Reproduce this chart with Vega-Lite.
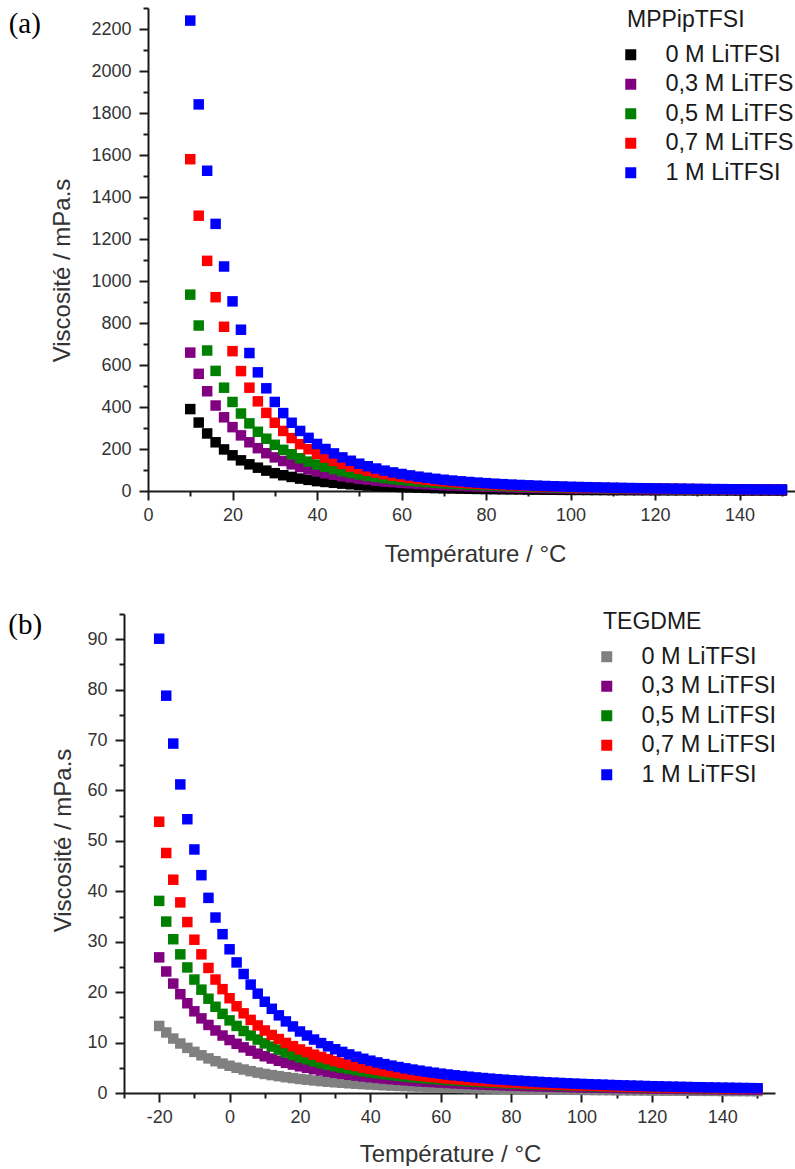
{
"$schema": "https://vega.github.io/schema/vega-lite/v6.json",
"background": "white",
"padding": {"left": 8, "top": 7, "right": 0, "bottom": 0},
"columns": 1,
"align": "none",
"spacing": 45,
"resolve": {"scale": {"color": "independent"}, "legend": {"color": "independent"}},
"config": {
  "view": {"stroke": null},
  "font": "Liberation Sans",
  "axis": {"domainColor": "#1a1a1a", "domainWidth": 2, "tickColor": "#1a1a1a", "tickWidth": 2, "labelFont": "Liberation Sans", "labelFontSize": 18, "labelColor": "#333333", "labelPadding": 8, "titleFont": "Liberation Sans", "titleFontSize": 24, "titleFontWeight": "normal", "titleColor": "#333333", "grid": false, "labelOverlap": false, "labelFlush": false},
  "axisX": {"labelPadding": 6},
  "legend": {"titleFont": "Liberation Sans", "titleFontSize": 23, "titleFontWeight": "normal", "titleColor": "#1a1a1a", "labelFont": "Liberation Sans", "labelFontSize": 23.5, "labelColor": "#1a1a1a", "symbolType": "square", "symbolSize": 121, "symbolStrokeWidth": 0, "symbolOpacity": 1, "symbolOffset": -8, "labelOffset": 23, "rowPadding": 4.5, "titlePadding": 11, "padding": 0, "labelLimit": 300}
},
"datasets": {
"a": [
{"T":10,"v":390,"c":"0 M LiTFSI"},{"T":12,"v":326,"c":"0 M LiTFSI"},{"T":14,"v":274,"c":"0 M LiTFSI"},{"T":16,"v":232,"c":"0 M LiTFSI"},{"T":18,"v":198,"c":"0 M LiTFSI"},{"T":20,"v":170,"c":"0 M LiTFSI"},{"T":22,"v":146,"c":"0 M LiTFSI"},{"T":24,"v":127,"c":"0 M LiTFSI"},{"T":26,"v":111,"c":"0 M LiTFSI"},{"T":28,"v":97,"c":"0 M LiTFSI"},{"T":30,"v":85,"c":"0 M LiTFSI"},{"T":32,"v":75,"c":"0 M LiTFSI"},{"T":34,"v":67,"c":"0 M LiTFSI"},{"T":36,"v":59,"c":"0 M LiTFSI"},{"T":38,"v":53,"c":"0 M LiTFSI"},{"T":40,"v":47,"c":"0 M LiTFSI"},{"T":42,"v":43,"c":"0 M LiTFSI"},{"T":44,"v":39,"c":"0 M LiTFSI"},{"T":46,"v":35,"c":"0 M LiTFSI"},{"T":48,"v":32,"c":"0 M LiTFSI"},{"T":50,"v":29,"c":"0 M LiTFSI"},{"T":52,"v":26,"c":"0 M LiTFSI"},{"T":54,"v":24,"c":"0 M LiTFSI"},{"T":56,"v":22,"c":"0 M LiTFSI"},{"T":58,"v":20.3,"c":"0 M LiTFSI"},{"T":60,"v":18.7,"c":"0 M LiTFSI"},{"T":62,"v":17.3,"c":"0 M LiTFSI"},{"T":64,"v":16.0,"c":"0 M LiTFSI"},{"T":66,"v":14.9,"c":"0 M LiTFSI"},{"T":68,"v":13.8,"c":"0 M LiTFSI"},{"T":70,"v":12.8,"c":"0 M LiTFSI"},{"T":72,"v":12.0,"c":"0 M LiTFSI"},{"T":74,"v":11.2,"c":"0 M LiTFSI"},{"T":76,"v":10.5,"c":"0 M LiTFSI"},{"T":78,"v":9.8,"c":"0 M LiTFSI"},{"T":80,"v":9.2,"c":"0 M LiTFSI"},{"T":82,"v":8.6,"c":"0 M LiTFSI"},{"T":84,"v":8.1,"c":"0 M LiTFSI"},{"T":86,"v":7.7,"c":"0 M LiTFSI"},{"T":88,"v":7.2,"c":"0 M LiTFSI"},{"T":90,"v":6.8,"c":"0 M LiTFSI"},{"T":92,"v":6.5,"c":"0 M LiTFSI"},{"T":94,"v":6.1,"c":"0 M LiTFSI"},{"T":96,"v":5.8,"c":"0 M LiTFSI"},{"T":98,"v":5.5,"c":"0 M LiTFSI"},{"T":100,"v":5.2,"c":"0 M LiTFSI"},{"T":102,"v":5.0,"c":"0 M LiTFSI"},{"T":104,"v":4.8,"c":"0 M LiTFSI"},{"T":106,"v":4.5,"c":"0 M LiTFSI"},{"T":108,"v":4.3,"c":"0 M LiTFSI"},{"T":110,"v":4.1,"c":"0 M LiTFSI"},{"T":112,"v":4.0,"c":"0 M LiTFSI"},{"T":114,"v":3.8,"c":"0 M LiTFSI"},{"T":116,"v":3.6,"c":"0 M LiTFSI"},{"T":118,"v":3.5,"c":"0 M LiTFSI"},{"T":120,"v":3.3,"c":"0 M LiTFSI"},{"T":122,"v":3.2,"c":"0 M LiTFSI"},{"T":124,"v":3.1,"c":"0 M LiTFSI"},{"T":126,"v":3.0,"c":"0 M LiTFSI"},{"T":128,"v":2.9,"c":"0 M LiTFSI"},{"T":130,"v":2.8,"c":"0 M LiTFSI"},{"T":132,"v":2.7,"c":"0 M LiTFSI"},{"T":134,"v":2.6,"c":"0 M LiTFSI"},{"T":136,"v":2.5,"c":"0 M LiTFSI"},{"T":138,"v":2.4,"c":"0 M LiTFSI"},{"T":140,"v":2.3,"c":"0 M LiTFSI"},{"T":142,"v":2.2,"c":"0 M LiTFSI"},{"T":144,"v":2.2,"c":"0 M LiTFSI"},{"T":146,"v":2.1,"c":"0 M LiTFSI"},{"T":148,"v":2.0,"c":"0 M LiTFSI"},{"T":150,"v":2.0,"c":"0 M LiTFSI"},
{"T":10,"v":659,"c":"0,3 M LiTFSI"},{"T":12,"v":558,"c":"0,3 M LiTFSI"},{"T":14,"v":475,"c":"0,3 M LiTFSI"},{"T":16,"v":407,"c":"0,3 M LiTFSI"},{"T":18,"v":351,"c":"0,3 M LiTFSI"},{"T":20,"v":304,"c":"0,3 M LiTFSI"},{"T":22,"v":265,"c":"0,3 M LiTFSI"},{"T":24,"v":232,"c":"0,3 M LiTFSI"},{"T":26,"v":204,"c":"0,3 M LiTFSI"},{"T":28,"v":180,"c":"0,3 M LiTFSI"},{"T":30,"v":160,"c":"0,3 M LiTFSI"},{"T":32,"v":143,"c":"0,3 M LiTFSI"},{"T":34,"v":127,"c":"0,3 M LiTFSI"},{"T":36,"v":114,"c":"0,3 M LiTFSI"},{"T":38,"v":103,"c":"0,3 M LiTFSI"},{"T":40,"v":93,"c":"0,3 M LiTFSI"},{"T":42,"v":84,"c":"0,3 M LiTFSI"},{"T":44,"v":77,"c":"0,3 M LiTFSI"},{"T":46,"v":70,"c":"0,3 M LiTFSI"},{"T":48,"v":64,"c":"0,3 M LiTFSI"},{"T":50,"v":58,"c":"0,3 M LiTFSI"},{"T":52,"v":54,"c":"0,3 M LiTFSI"},{"T":54,"v":49,"c":"0,3 M LiTFSI"},{"T":56,"v":45,"c":"0,3 M LiTFSI"},{"T":58,"v":42.1,"c":"0,3 M LiTFSI"},{"T":60,"v":39.0,"c":"0,3 M LiTFSI"},{"T":62,"v":36.3,"c":"0,3 M LiTFSI"},{"T":64,"v":33.7,"c":"0,3 M LiTFSI"},{"T":66,"v":31.5,"c":"0,3 M LiTFSI"},{"T":68,"v":29.3,"c":"0,3 M LiTFSI"},{"T":70,"v":27.4,"c":"0,3 M LiTFSI"},{"T":72,"v":25.7,"c":"0,3 M LiTFSI"},{"T":74,"v":24.1,"c":"0,3 M LiTFSI"},{"T":76,"v":22.7,"c":"0,3 M LiTFSI"},{"T":78,"v":21.4,"c":"0,3 M LiTFSI"},{"T":80,"v":20.1,"c":"0,3 M LiTFSI"},{"T":82,"v":19.0,"c":"0,3 M LiTFSI"},{"T":84,"v":18.0,"c":"0,3 M LiTFSI"},{"T":86,"v":17.0,"c":"0,3 M LiTFSI"},{"T":88,"v":16.1,"c":"0,3 M LiTFSI"},{"T":90,"v":15.3,"c":"0,3 M LiTFSI"},{"T":92,"v":14.5,"c":"0,3 M LiTFSI"},{"T":94,"v":13.8,"c":"0,3 M LiTFSI"},{"T":96,"v":13.1,"c":"0,3 M LiTFSI"},{"T":98,"v":12.5,"c":"0,3 M LiTFSI"},{"T":100,"v":11.9,"c":"0,3 M LiTFSI"},{"T":102,"v":11.4,"c":"0,3 M LiTFSI"},{"T":104,"v":10.9,"c":"0,3 M LiTFSI"},{"T":106,"v":10.4,"c":"0,3 M LiTFSI"},{"T":108,"v":10.0,"c":"0,3 M LiTFSI"},{"T":110,"v":9.6,"c":"0,3 M LiTFSI"},{"T":112,"v":9.2,"c":"0,3 M LiTFSI"},{"T":114,"v":8.8,"c":"0,3 M LiTFSI"},{"T":116,"v":8.5,"c":"0,3 M LiTFSI"},{"T":118,"v":8.2,"c":"0,3 M LiTFSI"},{"T":120,"v":7.8,"c":"0,3 M LiTFSI"},{"T":122,"v":7.6,"c":"0,3 M LiTFSI"},{"T":124,"v":7.3,"c":"0,3 M LiTFSI"},{"T":126,"v":7.0,"c":"0,3 M LiTFSI"},{"T":128,"v":6.8,"c":"0,3 M LiTFSI"},{"T":130,"v":6.6,"c":"0,3 M LiTFSI"},{"T":132,"v":6.3,"c":"0,3 M LiTFSI"},{"T":134,"v":6.1,"c":"0,3 M LiTFSI"},{"T":136,"v":6.0,"c":"0,3 M LiTFSI"},{"T":138,"v":5.7,"c":"0,3 M LiTFSI"},{"T":140,"v":5.6,"c":"0,3 M LiTFSI"},{"T":142,"v":5.4,"c":"0,3 M LiTFSI"},{"T":144,"v":5.2,"c":"0,3 M LiTFSI"},{"T":146,"v":5.1,"c":"0,3 M LiTFSI"},{"T":148,"v":4.9,"c":"0,3 M LiTFSI"},{"T":150,"v":4.8,"c":"0,3 M LiTFSI"},
{"T":10,"v":935,"c":"0,5 M LiTFSI"},{"T":12,"v":788,"c":"0,5 M LiTFSI"},{"T":14,"v":669,"c":"0,5 M LiTFSI"},{"T":16,"v":572,"c":"0,5 M LiTFSI"},{"T":18,"v":492,"c":"0,5 M LiTFSI"},{"T":20,"v":424,"c":"0,5 M LiTFSI"},{"T":22,"v":369,"c":"0,5 M LiTFSI"},{"T":24,"v":322,"c":"0,5 M LiTFSI"},{"T":26,"v":282,"c":"0,5 M LiTFSI"},{"T":28,"v":249,"c":"0,5 M LiTFSI"},{"T":30,"v":220,"c":"0,5 M LiTFSI"},{"T":32,"v":196,"c":"0,5 M LiTFSI"},{"T":34,"v":175,"c":"0,5 M LiTFSI"},{"T":36,"v":156,"c":"0,5 M LiTFSI"},{"T":38,"v":140,"c":"0,5 M LiTFSI"},{"T":40,"v":126,"c":"0,5 M LiTFSI"},{"T":42,"v":115,"c":"0,5 M LiTFSI"},{"T":44,"v":104,"c":"0,5 M LiTFSI"},{"T":46,"v":94,"c":"0,5 M LiTFSI"},{"T":48,"v":86,"c":"0,5 M LiTFSI"},{"T":50,"v":79,"c":"0,5 M LiTFSI"},{"T":52,"v":72,"c":"0,5 M LiTFSI"},{"T":54,"v":66.5,"c":"0,5 M LiTFSI"},{"T":56,"v":61,"c":"0,5 M LiTFSI"},{"T":58,"v":56.4,"c":"0,5 M LiTFSI"},{"T":60,"v":52.3,"c":"0,5 M LiTFSI"},{"T":62,"v":48.5,"c":"0,5 M LiTFSI"},{"T":64,"v":45.0,"c":"0,5 M LiTFSI"},{"T":66,"v":42.0,"c":"0,5 M LiTFSI"},{"T":68,"v":39.0,"c":"0,5 M LiTFSI"},{"T":70,"v":36.5,"c":"0,5 M LiTFSI"},{"T":72,"v":34.1,"c":"0,5 M LiTFSI"},{"T":74,"v":32.0,"c":"0,5 M LiTFSI"},{"T":76,"v":30.0,"c":"0,5 M LiTFSI"},{"T":78,"v":28.3,"c":"0,5 M LiTFSI"},{"T":80,"v":26.6,"c":"0,5 M LiTFSI"},{"T":82,"v":25.0,"c":"0,5 M LiTFSI"},{"T":84,"v":23.7,"c":"0,5 M LiTFSI"},{"T":86,"v":22.4,"c":"0,5 M LiTFSI"},{"T":88,"v":21.2,"c":"0,5 M LiTFSI"},{"T":90,"v":20.1,"c":"0,5 M LiTFSI"},{"T":92,"v":19.0,"c":"0,5 M LiTFSI"},{"T":94,"v":18.1,"c":"0,5 M LiTFSI"},{"T":96,"v":17.2,"c":"0,5 M LiTFSI"},{"T":98,"v":16.4,"c":"0,5 M LiTFSI"},{"T":100,"v":15.6,"c":"0,5 M LiTFSI"},{"T":102,"v":14.9,"c":"0,5 M LiTFSI"},{"T":104,"v":14.2,"c":"0,5 M LiTFSI"},{"T":106,"v":13.6,"c":"0,5 M LiTFSI"},{"T":108,"v":13.0,"c":"0,5 M LiTFSI"},{"T":110,"v":12.4,"c":"0,5 M LiTFSI"},{"T":112,"v":11.9,"c":"0,5 M LiTFSI"},{"T":114,"v":11.4,"c":"0,5 M LiTFSI"},{"T":116,"v":11.0,"c":"0,5 M LiTFSI"},{"T":118,"v":10.6,"c":"0,5 M LiTFSI"},{"T":120,"v":10.1,"c":"0,5 M LiTFSI"},{"T":122,"v":9.8,"c":"0,5 M LiTFSI"},{"T":124,"v":9.4,"c":"0,5 M LiTFSI"},{"T":126,"v":9.1,"c":"0,5 M LiTFSI"},{"T":128,"v":8.8,"c":"0,5 M LiTFSI"},{"T":130,"v":8.5,"c":"0,5 M LiTFSI"},{"T":132,"v":8.2,"c":"0,5 M LiTFSI"},{"T":134,"v":7.9,"c":"0,5 M LiTFSI"},{"T":136,"v":7.7,"c":"0,5 M LiTFSI"},{"T":138,"v":7.4,"c":"0,5 M LiTFSI"},{"T":140,"v":7.2,"c":"0,5 M LiTFSI"},{"T":142,"v":6.9,"c":"0,5 M LiTFSI"},{"T":144,"v":6.7,"c":"0,5 M LiTFSI"},{"T":146,"v":6.5,"c":"0,5 M LiTFSI"},{"T":148,"v":6.3,"c":"0,5 M LiTFSI"},{"T":150,"v":6.1,"c":"0,5 M LiTFSI"},
{"T":10,"v":1580,"c":"0,7 M LiTFSI"},{"T":12,"v":1311,"c":"0,7 M LiTFSI"},{"T":14,"v":1096,"c":"0,7 M LiTFSI"},{"T":16,"v":923,"c":"0,7 M LiTFSI"},{"T":18,"v":782,"c":"0,7 M LiTFSI"},{"T":20,"v":666,"c":"0,7 M LiTFSI"},{"T":22,"v":571,"c":"0,7 M LiTFSI"},{"T":24,"v":492,"c":"0,7 M LiTFSI"},{"T":26,"v":427,"c":"0,7 M LiTFSI"},{"T":28,"v":372,"c":"0,7 M LiTFSI"},{"T":30,"v":325,"c":"0,7 M LiTFSI"},{"T":32,"v":286,"c":"0,7 M LiTFSI"},{"T":34,"v":252,"c":"0,7 M LiTFSI"},{"T":36,"v":223,"c":"0,7 M LiTFSI"},{"T":38,"v":199,"c":"0,7 M LiTFSI"},{"T":40,"v":177,"c":"0,7 M LiTFSI"},{"T":42,"v":159,"c":"0,7 M LiTFSI"},{"T":44,"v":143,"c":"0,7 M LiTFSI"},{"T":46,"v":129,"c":"0,7 M LiTFSI"},{"T":48,"v":116,"c":"0,7 M LiTFSI"},{"T":50,"v":106,"c":"0,7 M LiTFSI"},{"T":52,"v":96,"c":"0,7 M LiTFSI"},{"T":54,"v":88,"c":"0,7 M LiTFSI"},{"T":56,"v":80,"c":"0,7 M LiTFSI"},{"T":58,"v":73.3,"c":"0,7 M LiTFSI"},{"T":60,"v":67.4,"c":"0,7 M LiTFSI"},{"T":62,"v":62.1,"c":"0,7 M LiTFSI"},{"T":64,"v":57.2,"c":"0,7 M LiTFSI"},{"T":66,"v":53.0,"c":"0,7 M LiTFSI"},{"T":68,"v":49.0,"c":"0,7 M LiTFSI"},{"T":70,"v":45.5,"c":"0,7 M LiTFSI"},{"T":72,"v":42.3,"c":"0,7 M LiTFSI"},{"T":74,"v":39.4,"c":"0,7 M LiTFSI"},{"T":76,"v":36.8,"c":"0,7 M LiTFSI"},{"T":78,"v":34.4,"c":"0,7 M LiTFSI"},{"T":80,"v":32.2,"c":"0,7 M LiTFSI"},{"T":82,"v":30.2,"c":"0,7 M LiTFSI"},{"T":84,"v":28.3,"c":"0,7 M LiTFSI"},{"T":86,"v":26.7,"c":"0,7 M LiTFSI"},{"T":88,"v":25.1,"c":"0,7 M LiTFSI"},{"T":90,"v":23.7,"c":"0,7 M LiTFSI"},{"T":92,"v":22.4,"c":"0,7 M LiTFSI"},{"T":94,"v":21.2,"c":"0,7 M LiTFSI"},{"T":96,"v":20.0,"c":"0,7 M LiTFSI"},{"T":98,"v":19.0,"c":"0,7 M LiTFSI"},{"T":100,"v":18.0,"c":"0,7 M LiTFSI"},{"T":102,"v":17.1,"c":"0,7 M LiTFSI"},{"T":104,"v":16.3,"c":"0,7 M LiTFSI"},{"T":106,"v":15.5,"c":"0,7 M LiTFSI"},{"T":108,"v":14.7,"c":"0,7 M LiTFSI"},{"T":110,"v":14.0,"c":"0,7 M LiTFSI"},{"T":112,"v":13.4,"c":"0,7 M LiTFSI"},{"T":114,"v":12.9,"c":"0,7 M LiTFSI"},{"T":116,"v":12.3,"c":"0,7 M LiTFSI"},{"T":118,"v":11.8,"c":"0,7 M LiTFSI"},{"T":120,"v":11.2,"c":"0,7 M LiTFSI"},{"T":122,"v":10.8,"c":"0,7 M LiTFSI"},{"T":124,"v":10.4,"c":"0,7 M LiTFSI"},{"T":126,"v":9.9,"c":"0,7 M LiTFSI"},{"T":128,"v":9.6,"c":"0,7 M LiTFSI"},{"T":130,"v":9.2,"c":"0,7 M LiTFSI"},{"T":132,"v":8.9,"c":"0,7 M LiTFSI"},{"T":134,"v":8.5,"c":"0,7 M LiTFSI"},{"T":136,"v":8.3,"c":"0,7 M LiTFSI"},{"T":138,"v":7.9,"c":"0,7 M LiTFSI"},{"T":140,"v":7.6,"c":"0,7 M LiTFSI"},{"T":142,"v":7.4,"c":"0,7 M LiTFSI"},{"T":144,"v":7.1,"c":"0,7 M LiTFSI"},{"T":146,"v":6.9,"c":"0,7 M LiTFSI"},{"T":148,"v":6.7,"c":"0,7 M LiTFSI"},{"T":150,"v":6.5,"c":"0,7 M LiTFSI"},
{"T":10,"v":2240,"c":"1 M LiTFSI"},{"T":12,"v":1841,"c":"1 M LiTFSI"},{"T":14,"v":1525,"c":"1 M LiTFSI"},{"T":16,"v":1272,"c":"1 M LiTFSI"},{"T":18,"v":1069,"c":"1 M LiTFSI"},{"T":20,"v":903,"c":"1 M LiTFSI"},{"T":22,"v":768,"c":"1 M LiTFSI"},{"T":24,"v":657,"c":"1 M LiTFSI"},{"T":26,"v":565,"c":"1 M LiTFSI"},{"T":28,"v":489,"c":"1 M LiTFSI"},{"T":30,"v":424,"c":"1 M LiTFSI"},{"T":32,"v":371,"c":"1 M LiTFSI"},{"T":34,"v":325,"c":"1 M LiTFSI"},{"T":36,"v":286,"c":"1 M LiTFSI"},{"T":38,"v":253,"c":"1 M LiTFSI"},{"T":40,"v":224,"c":"1 M LiTFSI"},{"T":42,"v":200,"c":"1 M LiTFSI"},{"T":44,"v":179,"c":"1 M LiTFSI"},{"T":46,"v":160,"c":"1 M LiTFSI"},{"T":48,"v":144,"c":"1 M LiTFSI"},{"T":50,"v":130,"c":"1 M LiTFSI"},{"T":52,"v":118,"c":"1 M LiTFSI"},{"T":54,"v":107,"c":"1 M LiTFSI"},{"T":56,"v":97,"c":"1 M LiTFSI"},{"T":58,"v":88.6,"c":"1 M LiTFSI"},{"T":60,"v":81.1,"c":"1 M LiTFSI"},{"T":62,"v":74.4,"c":"1 M LiTFSI"},{"T":64,"v":68.3,"c":"1 M LiTFSI"},{"T":66,"v":63.0,"c":"1 M LiTFSI"},{"T":68,"v":58.0,"c":"1 M LiTFSI"},{"T":70,"v":53.6,"c":"1 M LiTFSI"},{"T":72,"v":49.7,"c":"1 M LiTFSI"},{"T":74,"v":46.1,"c":"1 M LiTFSI"},{"T":76,"v":42.9,"c":"1 M LiTFSI"},{"T":78,"v":40.0,"c":"1 M LiTFSI"},{"T":80,"v":37.3,"c":"1 M LiTFSI"},{"T":82,"v":34.8,"c":"1 M LiTFSI"},{"T":84,"v":32.6,"c":"1 M LiTFSI"},{"T":86,"v":30.6,"c":"1 M LiTFSI"},{"T":88,"v":28.7,"c":"1 M LiTFSI"},{"T":90,"v":27.0,"c":"1 M LiTFSI"},{"T":92,"v":25.4,"c":"1 M LiTFSI"},{"T":94,"v":24.0,"c":"1 M LiTFSI"},{"T":96,"v":22.6,"c":"1 M LiTFSI"},{"T":98,"v":21.4,"c":"1 M LiTFSI"},{"T":100,"v":20.2,"c":"1 M LiTFSI"},{"T":102,"v":19.2,"c":"1 M LiTFSI"},{"T":104,"v":18.2,"c":"1 M LiTFSI"},{"T":106,"v":17.3,"c":"1 M LiTFSI"},{"T":108,"v":16.4,"c":"1 M LiTFSI"},{"T":110,"v":15.6,"c":"1 M LiTFSI"},{"T":112,"v":14.9,"c":"1 M LiTFSI"},{"T":114,"v":14.2,"c":"1 M LiTFSI"},{"T":116,"v":13.5,"c":"1 M LiTFSI"},{"T":118,"v":12.9,"c":"1 M LiTFSI"},{"T":120,"v":12.3,"c":"1 M LiTFSI"},{"T":122,"v":11.8,"c":"1 M LiTFSI"},{"T":124,"v":11.3,"c":"1 M LiTFSI"},{"T":126,"v":10.8,"c":"1 M LiTFSI"},{"T":128,"v":10.4,"c":"1 M LiTFSI"},{"T":130,"v":10.0,"c":"1 M LiTFSI"},{"T":132,"v":9.6,"c":"1 M LiTFSI"},{"T":134,"v":9.2,"c":"1 M LiTFSI"},{"T":136,"v":8.9,"c":"1 M LiTFSI"},{"T":138,"v":8.5,"c":"1 M LiTFSI"},{"T":140,"v":8.2,"c":"1 M LiTFSI"},{"T":142,"v":7.9,"c":"1 M LiTFSI"},{"T":144,"v":7.6,"c":"1 M LiTFSI"},{"T":146,"v":7.4,"c":"1 M LiTFSI"},{"T":148,"v":7.1,"c":"1 M LiTFSI"},{"T":150,"v":6.9,"c":"1 M LiTFSI"}
],
"b": [
{"T":-20,"v":13.3,"c":"0 M LiTFSI"},{"T":-18,"v":12.0,"c":"0 M LiTFSI"},{"T":-16,"v":10.8,"c":"0 M LiTFSI"},{"T":-14,"v":9.82,"c":"0 M LiTFSI"},{"T":-12,"v":8.95,"c":"0 M LiTFSI"},{"T":-10,"v":8.16,"c":"0 M LiTFSI"},{"T":-8,"v":7.48,"c":"0 M LiTFSI"},{"T":-6,"v":6.86,"c":"0 M LiTFSI"},{"T":-4,"v":6.31,"c":"0 M LiTFSI"},{"T":-2,"v":5.84,"c":"0 M LiTFSI"},{"T":0,"v":5.40,"c":"0 M LiTFSI"},{"T":2,"v":5.01,"c":"0 M LiTFSI"},{"T":4,"v":4.66,"c":"0 M LiTFSI"},{"T":6,"v":4.33,"c":"0 M LiTFSI"},{"T":8,"v":4.04,"c":"0 M LiTFSI"},{"T":10,"v":3.78,"c":"0 M LiTFSI"},{"T":12,"v":3.55,"c":"0 M LiTFSI"},{"T":14,"v":3.34,"c":"0 M LiTFSI"},{"T":16,"v":3.13,"c":"0 M LiTFSI"},{"T":18,"v":2.96,"c":"0 M LiTFSI"},{"T":20,"v":2.78,"c":"0 M LiTFSI"},{"T":22,"v":2.64,"c":"0 M LiTFSI"},{"T":24,"v":2.49,"c":"0 M LiTFSI"},{"T":26,"v":2.36,"c":"0 M LiTFSI"},{"T":28,"v":2.24,"c":"0 M LiTFSI"},{"T":30,"v":2.13,"c":"0 M LiTFSI"},{"T":32,"v":2.03,"c":"0 M LiTFSI"},{"T":34,"v":1.93,"c":"0 M LiTFSI"},{"T":36,"v":1.84,"c":"0 M LiTFSI"},{"T":38,"v":1.76,"c":"0 M LiTFSI"},{"T":40,"v":1.68,"c":"0 M LiTFSI"},{"T":42,"v":1.61,"c":"0 M LiTFSI"},{"T":44,"v":1.54,"c":"0 M LiTFSI"},{"T":46,"v":1.47,"c":"0 M LiTFSI"},{"T":48,"v":1.41,"c":"0 M LiTFSI"},{"T":50,"v":1.36,"c":"0 M LiTFSI"},{"T":52,"v":1.31,"c":"0 M LiTFSI"},{"T":54,"v":1.26,"c":"0 M LiTFSI"},{"T":56,"v":1.21,"c":"0 M LiTFSI"},{"T":58,"v":1.17,"c":"0 M LiTFSI"},{"T":60,"v":1.12,"c":"0 M LiTFSI"},{"T":62,"v":1.08,"c":"0 M LiTFSI"},{"T":64,"v":1.05,"c":"0 M LiTFSI"},{"T":66,"v":1.01,"c":"0 M LiTFSI"},{"T":68,"v":0.98,"c":"0 M LiTFSI"},{"T":70,"v":0.95,"c":"0 M LiTFSI"},{"T":72,"v":0.92,"c":"0 M LiTFSI"},{"T":74,"v":0.89,"c":"0 M LiTFSI"},{"T":76,"v":0.86,"c":"0 M LiTFSI"},{"T":78,"v":0.84,"c":"0 M LiTFSI"},{"T":80,"v":0.81,"c":"0 M LiTFSI"},{"T":82,"v":0.79,"c":"0 M LiTFSI"},{"T":84,"v":0.77,"c":"0 M LiTFSI"},{"T":86,"v":0.75,"c":"0 M LiTFSI"},{"T":88,"v":0.73,"c":"0 M LiTFSI"},{"T":90,"v":0.71,"c":"0 M LiTFSI"},{"T":92,"v":0.69,"c":"0 M LiTFSI"},{"T":94,"v":0.67,"c":"0 M LiTFSI"},{"T":96,"v":0.65,"c":"0 M LiTFSI"},{"T":98,"v":0.64,"c":"0 M LiTFSI"},{"T":100,"v":0.62,"c":"0 M LiTFSI"},{"T":102,"v":0.61,"c":"0 M LiTFSI"},{"T":104,"v":0.59,"c":"0 M LiTFSI"},{"T":106,"v":0.58,"c":"0 M LiTFSI"},{"T":108,"v":0.57,"c":"0 M LiTFSI"},{"T":110,"v":0.55,"c":"0 M LiTFSI"},{"T":112,"v":0.54,"c":"0 M LiTFSI"},{"T":114,"v":0.53,"c":"0 M LiTFSI"},{"T":116,"v":0.52,"c":"0 M LiTFSI"},{"T":118,"v":0.51,"c":"0 M LiTFSI"},{"T":120,"v":0.50,"c":"0 M LiTFSI"},{"T":122,"v":0.49,"c":"0 M LiTFSI"},{"T":124,"v":0.47,"c":"0 M LiTFSI"},{"T":126,"v":0.47,"c":"0 M LiTFSI"},{"T":128,"v":0.46,"c":"0 M LiTFSI"},{"T":130,"v":0.45,"c":"0 M LiTFSI"},{"T":132,"v":0.44,"c":"0 M LiTFSI"},{"T":134,"v":0.43,"c":"0 M LiTFSI"},{"T":136,"v":0.43,"c":"0 M LiTFSI"},{"T":138,"v":0.42,"c":"0 M LiTFSI"},{"T":140,"v":0.41,"c":"0 M LiTFSI"},{"T":142,"v":0.40,"c":"0 M LiTFSI"},{"T":144,"v":0.39,"c":"0 M LiTFSI"},{"T":146,"v":0.39,"c":"0 M LiTFSI"},{"T":148,"v":0.38,"c":"0 M LiTFSI"},{"T":150,"v":0.38,"c":"0 M LiTFSI"},
{"T":-20,"v":26.9,"c":"0,3 M LiTFSI"},{"T":-18,"v":24.1,"c":"0,3 M LiTFSI"},{"T":-16,"v":21.7,"c":"0,3 M LiTFSI"},{"T":-14,"v":19.6,"c":"0,3 M LiTFSI"},{"T":-12,"v":17.8,"c":"0,3 M LiTFSI"},{"T":-10,"v":16.2,"c":"0,3 M LiTFSI"},{"T":-8,"v":14.8,"c":"0,3 M LiTFSI"},{"T":-6,"v":13.5,"c":"0,3 M LiTFSI"},{"T":-4,"v":12.4,"c":"0,3 M LiTFSI"},{"T":-2,"v":11.4,"c":"0,3 M LiTFSI"},{"T":0,"v":10.5,"c":"0,3 M LiTFSI"},{"T":2,"v":9.76,"c":"0,3 M LiTFSI"},{"T":4,"v":9.05,"c":"0,3 M LiTFSI"},{"T":6,"v":8.39,"c":"0,3 M LiTFSI"},{"T":8,"v":7.81,"c":"0,3 M LiTFSI"},{"T":10,"v":7.29,"c":"0,3 M LiTFSI"},{"T":12,"v":6.83,"c":"0,3 M LiTFSI"},{"T":14,"v":6.40,"c":"0,3 M LiTFSI"},{"T":16,"v":5.98,"c":"0,3 M LiTFSI"},{"T":18,"v":5.64,"c":"0,3 M LiTFSI"},{"T":20,"v":5.29,"c":"0,3 M LiTFSI"},{"T":22,"v":5.01,"c":"0,3 M LiTFSI"},{"T":24,"v":4.72,"c":"0,3 M LiTFSI"},{"T":26,"v":4.46,"c":"0,3 M LiTFSI"},{"T":28,"v":4.23,"c":"0,3 M LiTFSI"},{"T":30,"v":4.01,"c":"0,3 M LiTFSI"},{"T":32,"v":3.81,"c":"0,3 M LiTFSI"},{"T":34,"v":3.62,"c":"0,3 M LiTFSI"},{"T":36,"v":3.45,"c":"0,3 M LiTFSI"},{"T":38,"v":3.29,"c":"0,3 M LiTFSI"},{"T":40,"v":3.14,"c":"0,3 M LiTFSI"},{"T":42,"v":3.00,"c":"0,3 M LiTFSI"},{"T":44,"v":2.86,"c":"0,3 M LiTFSI"},{"T":46,"v":2.74,"c":"0,3 M LiTFSI"},{"T":48,"v":2.62,"c":"0,3 M LiTFSI"},{"T":50,"v":2.52,"c":"0,3 M LiTFSI"},{"T":52,"v":2.41,"c":"0,3 M LiTFSI"},{"T":54,"v":2.32,"c":"0,3 M LiTFSI"},{"T":56,"v":2.23,"c":"0,3 M LiTFSI"},{"T":58,"v":2.15,"c":"0,3 M LiTFSI"},{"T":60,"v":2.07,"c":"0,3 M LiTFSI"},{"T":62,"v":1.99,"c":"0,3 M LiTFSI"},{"T":64,"v":1.92,"c":"0,3 M LiTFSI"},{"T":66,"v":1.86,"c":"0,3 M LiTFSI"},{"T":68,"v":1.80,"c":"0,3 M LiTFSI"},{"T":70,"v":1.73,"c":"0,3 M LiTFSI"},{"T":72,"v":1.68,"c":"0,3 M LiTFSI"},{"T":74,"v":1.62,"c":"0,3 M LiTFSI"},{"T":76,"v":1.57,"c":"0,3 M LiTFSI"},{"T":78,"v":1.52,"c":"0,3 M LiTFSI"},{"T":80,"v":1.48,"c":"0,3 M LiTFSI"},{"T":82,"v":1.43,"c":"0,3 M LiTFSI"},{"T":84,"v":1.39,"c":"0,3 M LiTFSI"},{"T":86,"v":1.35,"c":"0,3 M LiTFSI"},{"T":88,"v":1.31,"c":"0,3 M LiTFSI"},{"T":90,"v":1.27,"c":"0,3 M LiTFSI"},{"T":92,"v":1.24,"c":"0,3 M LiTFSI"},{"T":94,"v":1.21,"c":"0,3 M LiTFSI"},{"T":96,"v":1.18,"c":"0,3 M LiTFSI"},{"T":98,"v":1.15,"c":"0,3 M LiTFSI"},{"T":100,"v":1.12,"c":"0,3 M LiTFSI"},{"T":102,"v":1.09,"c":"0,3 M LiTFSI"},{"T":104,"v":1.07,"c":"0,3 M LiTFSI"},{"T":106,"v":1.04,"c":"0,3 M LiTFSI"},{"T":108,"v":1.01,"c":"0,3 M LiTFSI"},{"T":110,"v":0.99,"c":"0,3 M LiTFSI"},{"T":112,"v":0.97,"c":"0,3 M LiTFSI"},{"T":114,"v":0.95,"c":"0,3 M LiTFSI"},{"T":116,"v":0.93,"c":"0,3 M LiTFSI"},{"T":118,"v":0.90,"c":"0,3 M LiTFSI"},{"T":120,"v":0.88,"c":"0,3 M LiTFSI"},{"T":122,"v":0.87,"c":"0,3 M LiTFSI"},{"T":124,"v":0.84,"c":"0,3 M LiTFSI"},{"T":126,"v":0.83,"c":"0,3 M LiTFSI"},{"T":128,"v":0.81,"c":"0,3 M LiTFSI"},{"T":130,"v":0.80,"c":"0,3 M LiTFSI"},{"T":132,"v":0.78,"c":"0,3 M LiTFSI"},{"T":134,"v":0.77,"c":"0,3 M LiTFSI"},{"T":136,"v":0.75,"c":"0,3 M LiTFSI"},{"T":138,"v":0.74,"c":"0,3 M LiTFSI"},{"T":140,"v":0.73,"c":"0,3 M LiTFSI"},{"T":142,"v":0.71,"c":"0,3 M LiTFSI"},{"T":144,"v":0.70,"c":"0,3 M LiTFSI"},{"T":146,"v":0.69,"c":"0,3 M LiTFSI"},{"T":148,"v":0.67,"c":"0,3 M LiTFSI"},{"T":150,"v":0.66,"c":"0,3 M LiTFSI"},
{"T":-20,"v":38.1,"c":"0,5 M LiTFSI"},{"T":-18,"v":34.0,"c":"0,5 M LiTFSI"},{"T":-16,"v":30.5,"c":"0,5 M LiTFSI"},{"T":-14,"v":27.5,"c":"0,5 M LiTFSI"},{"T":-12,"v":24.9,"c":"0,5 M LiTFSI"},{"T":-10,"v":22.5,"c":"0,5 M LiTFSI"},{"T":-8,"v":20.5,"c":"0,5 M LiTFSI"},{"T":-6,"v":18.7,"c":"0,5 M LiTFSI"},{"T":-4,"v":17.1,"c":"0,5 M LiTFSI"},{"T":-2,"v":15.7,"c":"0,5 M LiTFSI"},{"T":0,"v":14.4,"c":"0,5 M LiTFSI"},{"T":2,"v":13.3,"c":"0,5 M LiTFSI"},{"T":4,"v":12.3,"c":"0,5 M LiTFSI"},{"T":6,"v":11.4,"c":"0,5 M LiTFSI"},{"T":8,"v":10.6,"c":"0,5 M LiTFSI"},{"T":10,"v":9.84,"c":"0,5 M LiTFSI"},{"T":12,"v":9.20,"c":"0,5 M LiTFSI"},{"T":14,"v":8.59,"c":"0,5 M LiTFSI"},{"T":16,"v":8.02,"c":"0,5 M LiTFSI"},{"T":18,"v":7.54,"c":"0,5 M LiTFSI"},{"T":20,"v":7.05,"c":"0,5 M LiTFSI"},{"T":22,"v":6.67,"c":"0,5 M LiTFSI"},{"T":24,"v":6.27,"c":"0,5 M LiTFSI"},{"T":26,"v":5.92,"c":"0,5 M LiTFSI"},{"T":28,"v":5.59,"c":"0,5 M LiTFSI"},{"T":30,"v":5.30,"c":"0,5 M LiTFSI"},{"T":32,"v":5.02,"c":"0,5 M LiTFSI"},{"T":34,"v":4.76,"c":"0,5 M LiTFSI"},{"T":36,"v":4.52,"c":"0,5 M LiTFSI"},{"T":38,"v":4.30,"c":"0,5 M LiTFSI"},{"T":40,"v":4.10,"c":"0,5 M LiTFSI"},{"T":42,"v":3.91,"c":"0,5 M LiTFSI"},{"T":44,"v":3.73,"c":"0,5 M LiTFSI"},{"T":46,"v":3.56,"c":"0,5 M LiTFSI"},{"T":48,"v":3.41,"c":"0,5 M LiTFSI"},{"T":50,"v":3.26,"c":"0,5 M LiTFSI"},{"T":52,"v":3.13,"c":"0,5 M LiTFSI"},{"T":54,"v":3.00,"c":"0,5 M LiTFSI"},{"T":56,"v":2.88,"c":"0,5 M LiTFSI"},{"T":58,"v":2.77,"c":"0,5 M LiTFSI"},{"T":60,"v":2.66,"c":"0,5 M LiTFSI"},{"T":62,"v":2.56,"c":"0,5 M LiTFSI"},{"T":64,"v":2.47,"c":"0,5 M LiTFSI"},{"T":66,"v":2.38,"c":"0,5 M LiTFSI"},{"T":68,"v":2.30,"c":"0,5 M LiTFSI"},{"T":70,"v":2.22,"c":"0,5 M LiTFSI"},{"T":72,"v":2.14,"c":"0,5 M LiTFSI"},{"T":74,"v":2.07,"c":"0,5 M LiTFSI"},{"T":76,"v":2.00,"c":"0,5 M LiTFSI"},{"T":78,"v":1.94,"c":"0,5 M LiTFSI"},{"T":80,"v":1.88,"c":"0,5 M LiTFSI"},{"T":82,"v":1.82,"c":"0,5 M LiTFSI"},{"T":84,"v":1.77,"c":"0,5 M LiTFSI"},{"T":86,"v":1.71,"c":"0,5 M LiTFSI"},{"T":88,"v":1.66,"c":"0,5 M LiTFSI"},{"T":90,"v":1.61,"c":"0,5 M LiTFSI"},{"T":92,"v":1.57,"c":"0,5 M LiTFSI"},{"T":94,"v":1.53,"c":"0,5 M LiTFSI"},{"T":96,"v":1.48,"c":"0,5 M LiTFSI"},{"T":98,"v":1.44,"c":"0,5 M LiTFSI"},{"T":100,"v":1.40,"c":"0,5 M LiTFSI"},{"T":102,"v":1.37,"c":"0,5 M LiTFSI"},{"T":104,"v":1.34,"c":"0,5 M LiTFSI"},{"T":106,"v":1.31,"c":"0,5 M LiTFSI"},{"T":108,"v":1.27,"c":"0,5 M LiTFSI"},{"T":110,"v":1.24,"c":"0,5 M LiTFSI"},{"T":112,"v":1.21,"c":"0,5 M LiTFSI"},{"T":114,"v":1.18,"c":"0,5 M LiTFSI"},{"T":116,"v":1.16,"c":"0,5 M LiTFSI"},{"T":118,"v":1.13,"c":"0,5 M LiTFSI"},{"T":120,"v":1.10,"c":"0,5 M LiTFSI"},{"T":122,"v":1.08,"c":"0,5 M LiTFSI"},{"T":124,"v":1.05,"c":"0,5 M LiTFSI"},{"T":126,"v":1.03,"c":"0,5 M LiTFSI"},{"T":128,"v":1.01,"c":"0,5 M LiTFSI"},{"T":130,"v":0.99,"c":"0,5 M LiTFSI"},{"T":132,"v":0.97,"c":"0,5 M LiTFSI"},{"T":134,"v":0.96,"c":"0,5 M LiTFSI"},{"T":136,"v":0.93,"c":"0,5 M LiTFSI"},{"T":138,"v":0.91,"c":"0,5 M LiTFSI"},{"T":140,"v":0.90,"c":"0,5 M LiTFSI"},{"T":142,"v":0.89,"c":"0,5 M LiTFSI"},{"T":144,"v":0.86,"c":"0,5 M LiTFSI"},{"T":146,"v":0.85,"c":"0,5 M LiTFSI"},{"T":148,"v":0.83,"c":"0,5 M LiTFSI"},{"T":150,"v":0.82,"c":"0,5 M LiTFSI"},
{"T":-20,"v":53.8,"c":"0,7 M LiTFSI"},{"T":-18,"v":47.6,"c":"0,7 M LiTFSI"},{"T":-16,"v":42.3,"c":"0,7 M LiTFSI"},{"T":-14,"v":37.8,"c":"0,7 M LiTFSI"},{"T":-12,"v":33.9,"c":"0,7 M LiTFSI"},{"T":-10,"v":30.4,"c":"0,7 M LiTFSI"},{"T":-8,"v":27.5,"c":"0,7 M LiTFSI"},{"T":-6,"v":24.8,"c":"0,7 M LiTFSI"},{"T":-4,"v":22.5,"c":"0,7 M LiTFSI"},{"T":-2,"v":20.6,"c":"0,7 M LiTFSI"},{"T":0,"v":18.8,"c":"0,7 M LiTFSI"},{"T":2,"v":17.2,"c":"0,7 M LiTFSI"},{"T":4,"v":15.8,"c":"0,7 M LiTFSI"},{"T":6,"v":14.5,"c":"0,7 M LiTFSI"},{"T":8,"v":13.4,"c":"0,7 M LiTFSI"},{"T":10,"v":12.4,"c":"0,7 M LiTFSI"},{"T":12,"v":11.5,"c":"0,7 M LiTFSI"},{"T":14,"v":10.7,"c":"0,7 M LiTFSI"},{"T":16,"v":9.93,"c":"0,7 M LiTFSI"},{"T":18,"v":9.29,"c":"0,7 M LiTFSI"},{"T":20,"v":8.64,"c":"0,7 M LiTFSI"},{"T":22,"v":8.12,"c":"0,7 M LiTFSI"},{"T":24,"v":7.60,"c":"0,7 M LiTFSI"},{"T":26,"v":7.14,"c":"0,7 M LiTFSI"},{"T":28,"v":6.72,"c":"0,7 M LiTFSI"},{"T":30,"v":6.33,"c":"0,7 M LiTFSI"},{"T":32,"v":5.98,"c":"0,7 M LiTFSI"},{"T":34,"v":5.64,"c":"0,7 M LiTFSI"},{"T":36,"v":5.34,"c":"0,7 M LiTFSI"},{"T":38,"v":5.06,"c":"0,7 M LiTFSI"},{"T":40,"v":4.80,"c":"0,7 M LiTFSI"},{"T":42,"v":4.56,"c":"0,7 M LiTFSI"},{"T":44,"v":4.33,"c":"0,7 M LiTFSI"},{"T":46,"v":4.12,"c":"0,7 M LiTFSI"},{"T":48,"v":3.93,"c":"0,7 M LiTFSI"},{"T":50,"v":3.75,"c":"0,7 M LiTFSI"},{"T":52,"v":3.58,"c":"0,7 M LiTFSI"},{"T":54,"v":3.42,"c":"0,7 M LiTFSI"},{"T":56,"v":3.27,"c":"0,7 M LiTFSI"},{"T":58,"v":3.14,"c":"0,7 M LiTFSI"},{"T":60,"v":3.00,"c":"0,7 M LiTFSI"},{"T":62,"v":2.88,"c":"0,7 M LiTFSI"},{"T":64,"v":2.77,"c":"0,7 M LiTFSI"},{"T":66,"v":2.67,"c":"0,7 M LiTFSI"},{"T":68,"v":2.56,"c":"0,7 M LiTFSI"},{"T":70,"v":2.46,"c":"0,7 M LiTFSI"},{"T":72,"v":2.37,"c":"0,7 M LiTFSI"},{"T":74,"v":2.29,"c":"0,7 M LiTFSI"},{"T":76,"v":2.21,"c":"0,7 M LiTFSI"},{"T":78,"v":2.13,"c":"0,7 M LiTFSI"},{"T":80,"v":2.06,"c":"0,7 M LiTFSI"},{"T":82,"v":1.99,"c":"0,7 M LiTFSI"},{"T":84,"v":1.92,"c":"0,7 M LiTFSI"},{"T":86,"v":1.86,"c":"0,7 M LiTFSI"},{"T":88,"v":1.80,"c":"0,7 M LiTFSI"},{"T":90,"v":1.74,"c":"0,7 M LiTFSI"},{"T":92,"v":1.69,"c":"0,7 M LiTFSI"},{"T":94,"v":1.65,"c":"0,7 M LiTFSI"},{"T":96,"v":1.59,"c":"0,7 M LiTFSI"},{"T":98,"v":1.55,"c":"0,7 M LiTFSI"},{"T":100,"v":1.50,"c":"0,7 M LiTFSI"},{"T":102,"v":1.46,"c":"0,7 M LiTFSI"},{"T":104,"v":1.43,"c":"0,7 M LiTFSI"},{"T":106,"v":1.39,"c":"0,7 M LiTFSI"},{"T":108,"v":1.35,"c":"0,7 M LiTFSI"},{"T":110,"v":1.31,"c":"0,7 M LiTFSI"},{"T":112,"v":1.28,"c":"0,7 M LiTFSI"},{"T":114,"v":1.25,"c":"0,7 M LiTFSI"},{"T":116,"v":1.22,"c":"0,7 M LiTFSI"},{"T":118,"v":1.19,"c":"0,7 M LiTFSI"},{"T":120,"v":1.15,"c":"0,7 M LiTFSI"},{"T":122,"v":1.13,"c":"0,7 M LiTFSI"},{"T":124,"v":1.10,"c":"0,7 M LiTFSI"},{"T":126,"v":1.08,"c":"0,7 M LiTFSI"},{"T":128,"v":1.05,"c":"0,7 M LiTFSI"},{"T":130,"v":1.03,"c":"0,7 M LiTFSI"},{"T":132,"v":1.00,"c":"0,7 M LiTFSI"},{"T":134,"v":0.99,"c":"0,7 M LiTFSI"},{"T":136,"v":0.97,"c":"0,7 M LiTFSI"},{"T":138,"v":0.94,"c":"0,7 M LiTFSI"},{"T":140,"v":0.93,"c":"0,7 M LiTFSI"},{"T":142,"v":0.91,"c":"0,7 M LiTFSI"},{"T":144,"v":0.89,"c":"0,7 M LiTFSI"},{"T":146,"v":0.87,"c":"0,7 M LiTFSI"},{"T":148,"v":0.85,"c":"0,7 M LiTFSI"},{"T":150,"v":0.84,"c":"0,7 M LiTFSI"},
{"T":-20,"v":90.1,"c":"1 M LiTFSI"},{"T":-18,"v":78.8,"c":"1 M LiTFSI"},{"T":-16,"v":69.3,"c":"1 M LiTFSI"},{"T":-14,"v":61.2,"c":"1 M LiTFSI"},{"T":-12,"v":54.3,"c":"1 M LiTFSI"},{"T":-10,"v":48.3,"c":"1 M LiTFSI"},{"T":-8,"v":43.2,"c":"1 M LiTFSI"},{"T":-6,"v":38.7,"c":"1 M LiTFSI"},{"T":-4,"v":34.8,"c":"1 M LiTFSI"},{"T":-2,"v":31.5,"c":"1 M LiTFSI"},{"T":0,"v":28.5,"c":"1 M LiTFSI"},{"T":2,"v":25.9,"c":"1 M LiTFSI"},{"T":4,"v":23.6,"c":"1 M LiTFSI"},{"T":6,"v":21.5,"c":"1 M LiTFSI"},{"T":8,"v":19.7,"c":"1 M LiTFSI"},{"T":10,"v":18.1,"c":"1 M LiTFSI"},{"T":12,"v":16.7,"c":"1 M LiTFSI"},{"T":14,"v":15.4,"c":"1 M LiTFSI"},{"T":16,"v":14.2,"c":"1 M LiTFSI"},{"T":18,"v":13.2,"c":"1 M LiTFSI"},{"T":20,"v":12.2,"c":"1 M LiTFSI"},{"T":22,"v":11.4,"c":"1 M LiTFSI"},{"T":24,"v":10.6,"c":"1 M LiTFSI"},{"T":26,"v":9.9,"c":"1 M LiTFSI"},{"T":28,"v":9.26,"c":"1 M LiTFSI"},{"T":30,"v":8.68,"c":"1 M LiTFSI"},{"T":32,"v":8.15,"c":"1 M LiTFSI"},{"T":34,"v":7.65,"c":"1 M LiTFSI"},{"T":36,"v":7.20,"c":"1 M LiTFSI"},{"T":38,"v":6.79,"c":"1 M LiTFSI"},{"T":40,"v":6.41,"c":"1 M LiTFSI"},{"T":42,"v":6.06,"c":"1 M LiTFSI"},{"T":44,"v":5.73,"c":"1 M LiTFSI"},{"T":46,"v":5.43,"c":"1 M LiTFSI"},{"T":48,"v":5.15,"c":"1 M LiTFSI"},{"T":50,"v":4.89,"c":"1 M LiTFSI"},{"T":52,"v":4.65,"c":"1 M LiTFSI"},{"T":54,"v":4.43,"c":"1 M LiTFSI"},{"T":56,"v":4.22,"c":"1 M LiTFSI"},{"T":58,"v":4.03,"c":"1 M LiTFSI"},{"T":60,"v":3.84,"c":"1 M LiTFSI"},{"T":62,"v":3.67,"c":"1 M LiTFSI"},{"T":64,"v":3.51,"c":"1 M LiTFSI"},{"T":66,"v":3.37,"c":"1 M LiTFSI"},{"T":68,"v":3.23,"c":"1 M LiTFSI"},{"T":70,"v":3.09,"c":"1 M LiTFSI"},{"T":72,"v":2.97,"c":"1 M LiTFSI"},{"T":74,"v":2.85,"c":"1 M LiTFSI"},{"T":76,"v":2.74,"c":"1 M LiTFSI"},{"T":78,"v":2.64,"c":"1 M LiTFSI"},{"T":80,"v":2.54,"c":"1 M LiTFSI"},{"T":82,"v":2.45,"c":"1 M LiTFSI"},{"T":84,"v":2.36,"c":"1 M LiTFSI"},{"T":86,"v":2.28,"c":"1 M LiTFSI"},{"T":88,"v":2.20,"c":"1 M LiTFSI"},{"T":90,"v":2.12,"c":"1 M LiTFSI"},{"T":92,"v":2.05,"c":"1 M LiTFSI"},{"T":94,"v":1.99,"c":"1 M LiTFSI"},{"T":96,"v":1.92,"c":"1 M LiTFSI"},{"T":98,"v":1.86,"c":"1 M LiTFSI"},{"T":100,"v":1.80,"c":"1 M LiTFSI"},{"T":102,"v":1.75,"c":"1 M LiTFSI"},{"T":104,"v":1.70,"c":"1 M LiTFSI"},{"T":106,"v":1.65,"c":"1 M LiTFSI"},{"T":108,"v":1.60,"c":"1 M LiTFSI"},{"T":110,"v":1.55,"c":"1 M LiTFSI"},{"T":112,"v":1.51,"c":"1 M LiTFSI"},{"T":114,"v":1.47,"c":"1 M LiTFSI"},{"T":116,"v":1.43,"c":"1 M LiTFSI"},{"T":118,"v":1.39,"c":"1 M LiTFSI"},{"T":120,"v":1.35,"c":"1 M LiTFSI"},{"T":122,"v":1.32,"c":"1 M LiTFSI"},{"T":124,"v":1.28,"c":"1 M LiTFSI"},{"T":126,"v":1.25,"c":"1 M LiTFSI"},{"T":128,"v":1.22,"c":"1 M LiTFSI"},{"T":130,"v":1.19,"c":"1 M LiTFSI"},{"T":132,"v":1.16,"c":"1 M LiTFSI"},{"T":134,"v":1.14,"c":"1 M LiTFSI"},{"T":136,"v":1.11,"c":"1 M LiTFSI"},{"T":138,"v":1.08,"c":"1 M LiTFSI"},{"T":140,"v":1.06,"c":"1 M LiTFSI"},{"T":142,"v":1.04,"c":"1 M LiTFSI"},{"T":144,"v":1.01,"c":"1 M LiTFSI"},{"T":146,"v":0.99,"c":"1 M LiTFSI"},{"T":148,"v":0.97,"c":"1 M LiTFSI"},{"T":150,"v":0.95,"c":"1 M LiTFSI"}
]
},
"concat": [
{
  "width": 679, "height": 483,
  "title": {"text": "(a)", "orient": "left", "anchor": "end", "frame": "group", "angle": 0, "align": "right", "baseline": "alphabetic", "offset": -23, "dy": 25, "font": "Liberation Serif", "fontSize": 29, "fontWeight": "normal", "color": "#000000"},
  "data": {"name": "a"},
  "mark": {"type": "square", "size": 110, "opacity": 1},
  "encoding": {
    "x": {"field": "T", "type": "quantitative", "scale": {"domain": [0, 155], "range": [24, 679], "nice": false, "zero": false},
      "axis": {"values": [0,10,20,30,40,50,60,70,80,90,100,110,120,130,140,150], "labelExpr": "datum.value % 20 === 0 ? toString(datum.value) : ''", "labelFontSize": {"condition": {"test": "datum.value % 20 === 0", "value": 18}, "value": 0}, "tickSize": {"condition": {"test": "datum.value % 20 === 0", "value": 9}, "value": 5}, "title": "Température / °C", "titleX": 351, "titleY": 70, "titleAlign": "center", "titleBaseline": "alphabetic"}},
    "y": {"field": "v", "type": "quantitative", "scale": {"domain": [0, 2300], "nice": false, "zero": false},
      "axis": {"offset": -24, "values": [0,100,200,300,400,500,600,700,800,900,1000,1100,1200,1300,1400,1500,1600,1700,1800,1900,2000,2100,2200,2300], "labelExpr": "datum.value % 200 === 0 ? toString(datum.value) : ''", "labelFontSize": {"condition": {"test": "datum.value % 200 === 0", "value": 18}, "value": 0}, "tickSize": {"condition": {"test": "datum.value % 200 === 0", "value": 9}, "value": 5}, "title": "Viscosité / mPa.s", "titleX": -79, "titleY": 262, "titleAngle": 270, "titleAlign": "center", "titleBaseline": "alphabetic"}},
    "color": {"field": "c", "type": "nominal",
      "scale": {"domain": ["0 M LiTFSI", "0,3 M LiTFSI", "0,5 M LiTFSI", "0,7 M LiTFSI", "1 M LiTFSI"], "range": ["#000000", "#800080", "#008000", "#ff0000", "#0000ff"]},
      "legend": {"title": "MPPipTFSI", "orient": "none", "legendX": 503, "legendY": 1}}
  }
},
{
  "width": 651, "height": 479,
  "title": {"text": "(b)", "orient": "left", "anchor": "end", "frame": "group", "angle": 0, "align": "right", "baseline": "alphabetic", "offset": -25, "dy": 20, "font": "Liberation Serif", "fontSize": 29, "fontWeight": "normal", "color": "#000000"},
  "data": {"name": "b"},
  "mark": {"type": "square", "size": 110, "opacity": 1},
  "encoding": {
    "x": {"field": "T", "type": "quantitative", "scale": {"domain": [-30, 155], "nice": false, "zero": false},
      "axis": {"values": [-30,-20,-10,0,10,20,30,40,50,60,70,80,90,100,110,120,130,140,150], "labelExpr": "datum.value % 20 === 0 ? toString(datum.value) : ''", "labelFontSize": {"condition": {"test": "datum.value % 20 === 0", "value": 18}, "value": 0}, "tickSize": {"condition": {"test": "datum.value % 20 === 0", "value": 9}, "value": 5}, "title": "Température / °C", "titleX": 326, "titleY": 68, "titleAlign": "center", "titleBaseline": "alphabetic"}},
    "y": {"field": "v", "type": "quantitative", "scale": {"domain": [0, 95], "nice": false, "zero": false},
      "axis": {"values": [0,5,10,15,20,25,30,35,40,45,50,55,60,65,70,75,80,85,90,95], "labelExpr": "datum.value % 10 === 0 ? toString(datum.value) : ''", "labelFontSize": {"condition": {"test": "datum.value % 10 === 0", "value": 18}, "value": 0}, "tickSize": {"condition": {"test": "datum.value % 10 === 0", "value": 9}, "value": 5}, "title": "Viscosité / mPa.s", "titleX": -54, "titleY": 226, "titleAngle": 270, "titleAlign": "center", "titleBaseline": "alphabetic"}},
    "color": {"field": "c", "type": "nominal",
      "scale": {"domain": ["0 M LiTFSI", "0,3 M LiTFSI", "0,5 M LiTFSI", "0,7 M LiTFSI", "1 M LiTFSI"], "range": ["#808080", "#800080", "#008000", "#ff0000", "#0000ff"]},
      "legend": {"title": "TEGDME", "orient": "none", "legendX": 479, "legendY": -3}}
  }
}
]
}
